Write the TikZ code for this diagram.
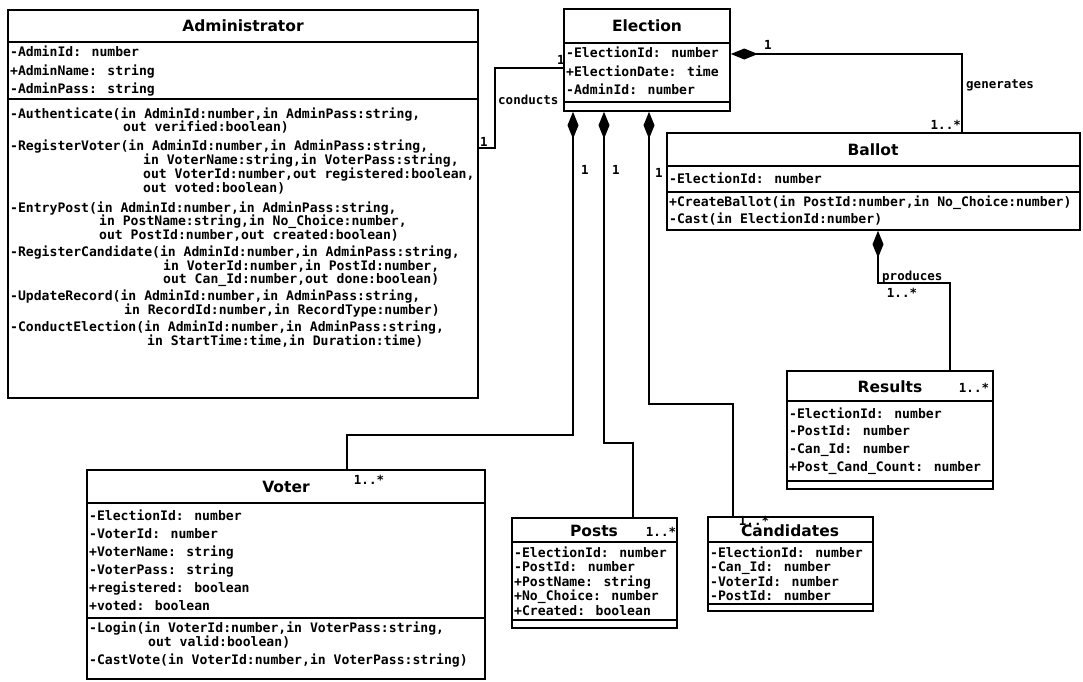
\documentclass[tikz,border=0pt]{standalone}
\usepackage{fontspec}
\newfontfamily\monof{DejaVu Sans Mono}
\newfontfamily\ttlf{DejaVu Sans}
\usetikzlibrary{arrows.meta}
\tikzset{
 box/.style={draw, line width=1.6pt, inner sep=0pt, fill=white},
 divider/.style={line width=1.3pt},
 conn/.style={line width=2.2pt},
 comp/.style={conn, {Diamond[length=27pt,width=11pt]}-},
 ttl/.style={font=\ttlf\bfseries\fontsize{15.5}{17}\selectfont, inner sep=0pt},
 txt/.style={font=\monof\bfseries\fontsize{13.1}{15}\selectfont, anchor=west, inner sep=0pt, text height=10pt, text depth=3pt},
 lbl/.style={font=\monof\bfseries\fontsize{12.5}{14}\selectfont, inner sep=0pt},
}
\newcommand\umlrow[4]{\node[txt] (#1) at (#2,#3) {#4};}
\begin{document}
\begin{tikzpicture}[x=1pt,y=-1pt]
\useasboundingbox (0,0) rectangle (1083,681);
% ---------- class boxes ----------
\node[box, minimum width=470pt, minimum height=388pt] (admin) at (243,204) {};
\node[box, minimum width=166pt, minimum height=102pt] (elec) at (647,60) {};
\node[box, minimum width=413pt, minimum height=97pt] (ballot) at (873.5,181.5) {};
\node[box, minimum width=206pt, minimum height=118pt] (results) at (890,430) {};
\node[box, minimum width=398pt, minimum height=209pt] (voter) at (286,574.5) {};
\node[box, minimum width=165pt, minimum height=110pt] (posts) at (594.5,573) {};
\node[box, minimum width=165pt, minimum height=94pt] (cand) at (790.5,564) {};
% ---------- compartment dividers ----------
\draw[divider] (admin.west |- 0,42) -- (admin.east |- 0,42);
\draw[divider] (admin.west |- 0,99) -- (admin.east |- 0,99);
\draw[divider] (elec.west |- 0,43) -- (elec.east |- 0,43);
\draw[divider] (elec.west |- 0,102) -- (elec.east |- 0,102);
\draw[divider] (ballot.west |- 0,166) -- (ballot.east |- 0,166);
\draw[divider] (ballot.west |- 0,192) -- (ballot.east |- 0,192);
\draw[divider] (results.west |- 0,401) -- (results.east |- 0,401);
\draw[divider] (results.west |- 0,481) -- (results.east |- 0,481);
\draw[divider] (voter.west |- 0,503) -- (voter.east |- 0,503);
\draw[divider] (voter.west |- 0,618) -- (voter.east |- 0,618);
\draw[divider] (posts.west |- 0,542) -- (posts.east |- 0,542);
\draw[divider] (posts.west |- 0,620) -- (posts.east |- 0,620);
\draw[divider] (cand.west |- 0,542) -- (cand.east |- 0,542);
\draw[divider] (cand.west |- 0,604) -- (cand.east |- 0,604);
% ---------- titles ----------
\node[ttl] (adminT) at (243,26) {Administrator};
\node[ttl] (elecT) at (647,26) {Election};
\node[ttl] (ballotT) at (873,150) {Ballot};
\node[ttl] (resultsT) at (890,387) {Results};
\node[ttl] (voterT) at (286,487) {Voter};
\node[ttl] (postsT) at (594,531) {Posts};
\node[ttl] (candT) at (790,531) {Candidates};
% ---------- Administrator ----------
\umlrow{a1}{10}{53}{-AdminId: number}
\umlrow{a2}{10}{72}{+AdminName: string}
\umlrow{a3}{10}{90}{-AdminPass: string}
\umlrow{a4}{10}{115}{-Authenticate(in AdminId:number,in AdminPass:string,}
\umlrow{a5}{123}{128}{out verified:boolean)}
\umlrow{a6}{10}{147}{-RegisterVoter(in AdminId:number,in AdminPass:string,}
\umlrow{a7}{143}{161}{in VoterName:string,in VoterPass:string,}
\umlrow{a8}{143}{175}{out VoterId:number,out registered:boolean,}
\umlrow{a9}{143}{189}{out voted:boolean)}
\umlrow{a10}{10}{209}{-EntryPost(in AdminId:number,in AdminPass:string,}
\umlrow{a11}{99}{222}{in PostName:string,in No\_Choice:number,}
\umlrow{a12}{99}{236}{out PostId:number,out created:boolean)}
\umlrow{a13}{10}{253}{-RegisterCandidate(in AdminId:number,in AdminPass:string,}
\umlrow{a14}{163}{267}{in VoterId:number,in PostId:number,}
\umlrow{a15}{163}{280}{out Can\_Id:number,out done:boolean)}
\umlrow{a16}{10}{297}{-UpdateRecord(in AdminId:number,in AdminPass:string,}
\umlrow{a17}{124}{311}{in RecordId:number,in RecordType:number)}
\umlrow{a18}{10}{328}{-ConductElection(in AdminId:number,in AdminPass:string,}
\umlrow{a19}{147}{342}{in StartTime:time,in Duration:time)}
% ---------- Election ----------
\umlrow{e1}{566}{54}{-ElectionId: number}
\umlrow{e2}{566}{73}{+ElectionDate: time}
\umlrow{e3}{566}{91}{-AdminId: number}
% ---------- Ballot ----------
\umlrow{b1}{669}{180}{-ElectionId: number}
\umlrow{b2}{669}{203}{+CreateBallot(in PostId:number,in No\_Choice:number)}
\umlrow{b3}{669}{220}{-Cast(in ElectionId:number)}
% ---------- Results ----------
\umlrow{r1}{789}{415}{-ElectionId: number}
\umlrow{r2}{789}{432}{-PostId: number}
\umlrow{r3}{789}{450}{-Can\_Id: number}
\umlrow{r4}{789}{468}{+Post\_Cand\_Count: number}
% ---------- Voter ----------
\umlrow{v1}{89}{517}{-ElectionId: number}
\umlrow{v2}{89}{535}{-VoterId: number}
\umlrow{v3}{89}{553}{+VoterName: string}
\umlrow{v4}{89}{571}{-VoterPass: string}
\umlrow{v5}{89}{589}{+registered: boolean}
\umlrow{v6}{89}{607}{+voted: boolean}
\umlrow{v7}{89}{629}{-Login(in VoterId:number,in VoterPass:string,}
\umlrow{v8}{148}{643}{out valid:boolean)}
\umlrow{v9}{89}{661}{-CastVote(in VoterId:number,in VoterPass:string)}
% ---------- Posts ----------
\umlrow{p1}{514}{554}{-ElectionId: number}
\umlrow{p2}{514}{568}{-PostId: number}
\umlrow{p3}{514}{583}{+PostName: string}
\umlrow{p4}{514}{597}{+No\_Choice: number}
\umlrow{p5}{514}{612}{+Created: boolean}
% ---------- Candidates ----------
\umlrow{c1}{710}{554}{-ElectionId: number}
\umlrow{c2}{710}{568}{-Can\_Id: number}
\umlrow{c3}{710}{583}{-VoterId: number}
\umlrow{c4}{710}{597}{-PostId: number}
% ---------- connectors ----------
\coordinate (kc) at (495,68);
\draw[conn] (admin.east |- 0,148) -| (kc) -- (elec.west |- kc);
\draw[comp] (elec.east |- 0,54) -| (ballot.north -| 962,0);
\coordinate (kv) at (573,435);
\draw[comp] (elec.south -| kv) -- (kv) -| (voter.north -| 347,0);
\coordinate (kp) at (604,443);
\draw[comp] (elec.south -| kp) -- (kp) -| (posts.north -| 633,0);
\coordinate (kd) at (649,404);
\draw[comp] (elec.south -| kd) -- (kd) -| (cand.north -| 733,0);
\coordinate (kr) at (878,283);
\draw[comp] (ballot.south -| kr) -- (kr) -| (results.north -| 950,0);
% ---------- connector labels ----------
\node[lbl] (m1) at (484,142) {1};
\node[lbl] (m2) at (561,60) {1};
\node[lbl, anchor=west] (lc) at (498,100) {conducts};
\node[lbl] (m3) at (768,45) {1};
\node[lbl, anchor=west] (lg) at (966,85) {generates};
\node[lbl, anchor=east] (m4) at (961,125) {1..*};
\node[lbl] (m5) at (585,170) {1};
\node[lbl] (m6) at (616,170) {1};
\node[lbl] (m7) at (659,173) {1};
\node[lbl] (m8) at (369,480) {1..*};
\node[lbl] (m9) at (661,532) {1..*};
\node[lbl] (m10) at (754,521) {1..*};
\node[lbl, anchor=west] (lp) at (882,277) {produces};
\node[lbl] (m11) at (902,293) {1..*};
\node[lbl] (m12) at (974,388) {1..*};
\end{tikzpicture}
\end{document}
